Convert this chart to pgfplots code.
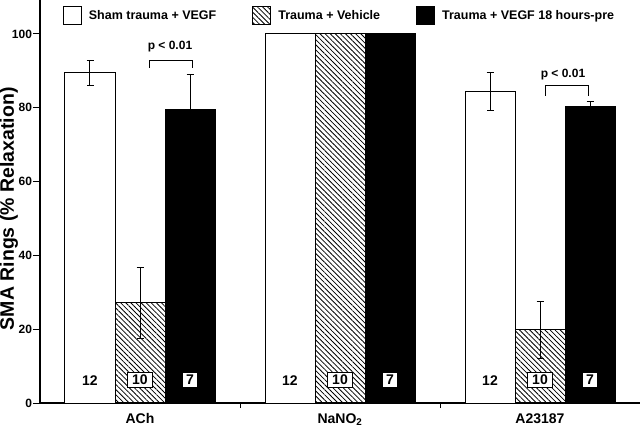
\documentclass[border=0pt]{standalone}
\usepackage{fontspec}
\setmainfont{Liberation Sans}
\usepackage{pgfplots}
\pgfplotsset{compat=1.18}
\usetikzlibrary{patterns.meta}

\newcommand{\lbl}{\bfseries\fontsize{12}{14}\selectfont}
\newcommand{\nlbl}{\bfseries\fontsize{14}{16}\selectfont}
\tikzset{nbox/.style={draw, fill=white, line width=0.8pt, inner xsep=4.5pt, inner ysep=2.5pt, font=\nlbl}}

\begin{document}
\begin{tikzpicture}
\begin{axis}[
    scale only axis,
    width=600pt, height=403pt,
    xmin=-0.5, xmax=2.5,
    ymin=0, ymax=109.2,
    axis x line=bottom, axis y line=left,
    axis line style={-, line width=1.2pt},
    ybar=0pt, bar width=50pt,
    xtick={0,1,2},
    xticklabels={ACh, NaNO\textsubscript{2}, A23187},
    major x tick style={draw=none},
    minor xtick={0.5,1.5},
    ytick={0,20,...,100},
    tick align=outside,
    major tick length=7pt, minor tick length=5pt,
    tick style={line width=1pt, black},
    yticklabel style={font=\lbl, xshift=2.5pt},
    xticklabel style={font=\bfseries\fontsize{14}{16}\selectfont},
    /pgf/number format/assume math mode=true,
    ylabel={SMA Rings (\% Relaxation)},
    every axis y label/.style={at={(rel axis cs:0,0.482)}, xshift=-31pt, rotate=90,
        anchor=center, font=\bfseries\fontsize{19.5}{23}\selectfont},
    error bars/y dir=both, error bars/y explicit,
    error bars/error bar style={line width=1pt, black},
    error bars/error mark options={rotate=90, line width=1pt, mark size=3.5pt, black},
    legend image code/.code={\draw[#1] (0pt,-9pt) rectangle (18pt,9pt);},
    legend columns=3,
    legend style={draw=none, fill=none, at={(0.0378,0.985)}, anchor=north west,
        inner sep=0pt, font=\bfseries\fontsize{12.5}{15}\selectfont,
        /tikz/every odd column/.append style={column sep=5pt},
        /tikz/every even column/.append style={column sep=34pt}},
]
\addplot[draw=black, line width=1pt, fill=white] coordinates {
    (0,89.5) +- (0,3.4)
    (1,100)  +- (0,0)
    (2,84.4) +- (0,5.2)
};
\addlegendentry{Sham trauma + VEGF}
\addplot[draw=black, line width=1pt,
    pattern={Lines[angle=135, distance=3.6pt, line width=0.8pt]}] coordinates {
    (0,27.1) +- (0,9.5)
    (1,100)  +- (0,0)
    (2,19.8) +- (0,7.7)
};
\addlegendentry{Trauma + Vehicle}
\addplot[draw=black, line width=1pt, fill=black] coordinates {
    (0,79.5) +- (0,9.4)
    (1,100)  +- (0,0)
    (2,80.3) +- (0,1.4)
};
\addlegendentry{Trauma + VEGF 18 hours-pre}

% n per group
\node[font=\nlbl] at (axis cs:-0.25,6.2) {12};
\node[nbox] at (axis cs:0,6.2) {10};
\node[nbox, inner xsep=3.5pt] at (axis cs:0.25,6.2) {7};
\node[font=\nlbl] at (axis cs:0.75,6.2) {12};
\node[nbox] at (axis cs:1,6.2) {10};
\node[nbox, inner xsep=3.5pt] at (axis cs:1.25,6.2) {7};
\node[font=\nlbl] at (axis cs:1.75,6.2) {12};
\node[nbox] at (axis cs:2,6.2) {10};
\node[nbox, inner xsep=3.5pt] at (axis cs:2.25,6.2) {7};

% significance brackets
\draw[line width=1pt] (axis cs:0.045,90.8) |- (axis cs:0.26,92.9) -- (axis cs:0.26,90.8);
\node[font=\lbl] at (axis cs:0.15,96.5) {p < 0.01};
\draw[line width=1pt] (axis cs:2.025,83.3) |- (axis cs:2.24,85.9) -- (axis cs:2.24,83.3);
\node[font=\lbl] at (axis cs:2.115,89.1) {p < 0.01};

\coordinate (sw) at (rel axis cs:0,0);
\coordinate (ne) at (rel axis cs:1,1);
\end{axis}
\pgfresetboundingbox
\path[use as bounding box] ([shift={(-40pt,-23.5pt)}]sw) rectangle (ne);
\end{tikzpicture}
\end{document}
